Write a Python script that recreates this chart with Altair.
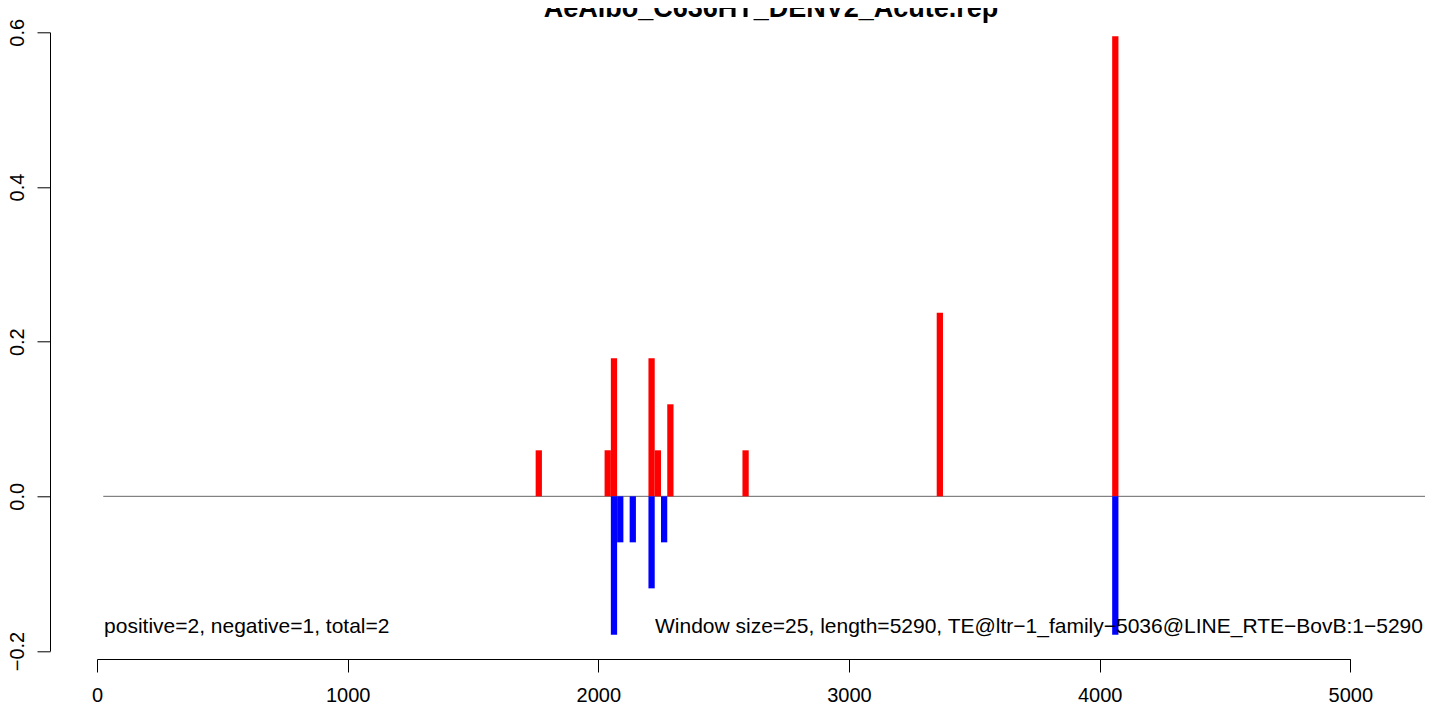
import altair as alt
import pandas as pd

FONT = "Liberation Sans"
WINDOW = 25

title_text = "AeAlbo_C636HT_DENV2_Acute.rep"

pos_start = [1750, 2025, 2050, 2200, 2225, 2275, 2575, 3350, 4050]
pos_value = [0.0595, 0.0595, 0.1785, 0.1785, 0.0595, 0.119, 0.0595, 0.2375, 0.595]

neg_start = [2050, 2075, 2125, 2200, 2250, 4050]
neg_value = [-0.179, -0.0595, -0.0595, -0.119, -0.0595, -0.179]

x_ticks = [0, 1000, 2000, 3000, 4000, 5000]
y_ticks = [-0.2, 0.0, 0.2, 0.4, 0.6]

left_note = "positive=2, negative=1, total=2"
right_note = "Window size=25, length=5290, TE@ltr\u22121_family\u22125036@LINE_RTE\u2212BovB:1\u22125290"
seq_length = 5290

pos_df = pd.DataFrame({"start": pos_start, "value": pos_value})
pos_df["end"] = pos_df["start"] + WINDOW
pos_df["zero"] = 0.0
neg_df = pd.DataFrame({"start": neg_start, "value": neg_value})
neg_df["end"] = neg_df["start"] + WINDOW
neg_df["zero"] = 0.0

line_df = pd.DataFrame({"x": [WINDOW], "x2": [5320], "y": [0.0]})
left_df = pd.DataFrame({"x": [28], "y": [-0.1768], "t": [left_note]})
right_df = pd.DataFrame({"x": [seq_length], "y": [-0.1768], "t": [right_note]})
title_df = pd.DataFrame({"x": [2689], "y": [0.6204], "t": [title_text]})

xscale = alt.Scale(domain=[0, 5000], nice=False, zero=False)
yscale = alt.Scale(domain=[-0.2, 0.6], nice=False, zero=False)

xaxis = alt.Axis(values=x_ticks, format="d", grid=False, offset=8, tickSize=13,
                 domainColor="black", tickColor="black", domainWidth=1, tickWidth=1,
                 labelFont=FONT, labelFontSize=20, labelColor="black", labelPadding=13,
                 title=None, labelFlush=False, labelOverlap=False)
yaxis = alt.Axis(values=y_ticks, format=".1f", grid=False, offset=47, tickSize=13,
                 domainColor="black", tickColor="black", domainWidth=1, tickWidth=1,
                 labelFont=FONT, labelFontSize=20, labelColor="black", labelPadding=14,
                 labelAngle=270, labelAlign="center", labelBaseline="alphabetic",
                 title=None, labelFlush=False, labelOverlap=False)

zero_line = alt.Chart(line_df).mark_rule(color="#666666", strokeWidth=1).encode(
    x=alt.X("x:Q", scale=xscale, axis=xaxis),
    x2="x2:Q",
    y=alt.Y("y:Q", scale=yscale, axis=yaxis),
)

pos_bars = alt.Chart(pos_df).mark_rect(color="#FF0000").encode(
    x=alt.X("start:Q", scale=xscale),
    x2="end:Q",
    y=alt.Y("zero:Q", scale=yscale),
    y2="value:Q",
)
neg_bars = alt.Chart(neg_df).mark_rect(color="#0000FF").encode(
    x=alt.X("start:Q", scale=xscale),
    x2="end:Q",
    y=alt.Y("zero:Q", scale=yscale),
    y2="value:Q",
)

left_text = alt.Chart(left_df).mark_text(align="left", baseline="alphabetic", font=FONT,
                                         fontSize=21, color="black").encode(
    x=alt.X("x:Q", scale=xscale), y=alt.Y("y:Q", scale=yscale), text="t:N")
right_text = alt.Chart(right_df).mark_text(align="right", baseline="alphabetic", font=FONT,
                                           fontSize=21, color="black").encode(
    x=alt.X("x:Q", scale=xscale), y=alt.Y("y:Q", scale=yscale), text="t:N")
title_mark = alt.Chart(title_df).mark_text(align="center", baseline="alphabetic", font=FONT,
                                           fontSize=27, fontWeight="bold", color="black").encode(
    x=alt.X("x:Q", scale=xscale), y=alt.Y("y:Q", scale=yscale), text="t:N")

chart = alt.layer(zero_line, pos_bars, neg_bars, left_text, right_text, title_mark).properties(
    width=1253.3,
    height=618.7,
    autosize=alt.AutoSizeParams(type="none"),
    padding={"left": 89, "top": 24.3, "right": 74.7, "bottom": 53},
    background="white",
).configure_view(stroke=None)

chart.save("out.html", embed_options={"renderer": "svg", "actions": False})
